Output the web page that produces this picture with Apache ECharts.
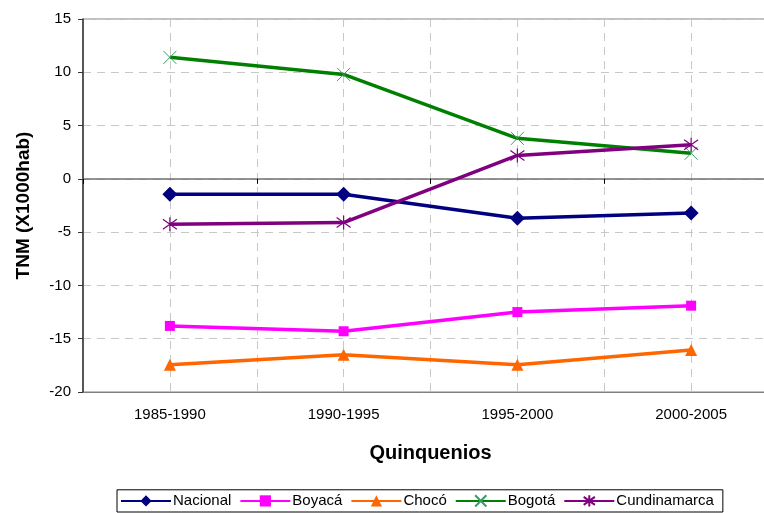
<!DOCTYPE html>
<html>
<head>
<meta charset="utf-8">
<script src="https://cdn.jsdelivr.net/npm/echarts@6/dist/echarts.min.js"></script>
<style>
  html, body { margin: 0; padding: 0; background: #fff; }
  #chart { width: 764px; height: 513px; }
</style>
</head>
<body>
<div id="chart"></div>
<script>
// quinquenios y tasas (TNM x1000hab)
const periods = ['1985-1990', '1990-1995', '1995-2000', '2000-2005'];
const nacional = [-1.45, -1.45, -3.7, -3.2];
const boyaca = [-13.8, -14.3, -12.5, -11.9];
const choco = [-17.45, -16.5, -17.45, -16.05];
const bogota = [11.4, 9.8, 3.8, 2.4];
const cundinamarca = [-4.25, -4.1, 2.2, 3.2];

const FONT = '"Liberation Sans", Arial, sans-serif';
const crossPath = 'path://M0 0L10 10M10 0L0 10';
const starPath = 'path://M0 0L10 10M10 0L0 10M5 -2L5 12';

const chart = echarts.init(document.getElementById('chart'));

function lineSeries(name, data, color, symbol, size, extra) {
  return Object.assign({
    name: name,
    type: 'line',
    xAxisIndex: 0,
    data: data,
    symbol: symbol,
    symbolSize: size,
    lineStyle: { color: color, width: 3.5 },
    itemStyle: { color: color },
    z: 3
  }, extra || {});
}

chart.setOption({
  animation: false,
  textStyle: { fontFamily: FONT },
  grid: {
    left: 83, top: 19, width: 695, bottom: 121,
    outerBoundsMode: 'none',
    containLabel: false,
    show: true, borderColor: '#808080', borderWidth: 1
  },
  legend: {
    bottom: 1,
    left: 117,
    itemWidth: 50,
    itemHeight: 14,
    itemGap: 8,
    padding: [3, 9, 3, 3],
    borderColor: '#000',
    borderWidth: 1,
    borderRadius: 0,
    textStyle: { fontSize: 15, color: '#000', fontFamily: FONT, padding: [0, 0, 0, -3] }
  },
  xAxis: [
    {
      type: 'category',
      data: periods,
      position: 'bottom',
      name: 'Quinquenios',
      nameLocation: 'middle',
      nameGap: 51,
      nameTextStyle: { fontSize: 20, fontWeight: 'bold', color: '#000' },
      axisLine: { onZero: false, lineStyle: { color: '#808080', width: 1 } },
      axisTick: { show: false },
      axisLabel: { fontSize: 15, color: '#000', margin: 15 },
      splitLine: { show: false }
    },
    {
      type: 'value',
      min: 0, max: 4, interval: 1,
      position: 'top',
      axisLine: { show: true, onZero: true, lineStyle: { color: '#707070', width: 1.5 } },
      axisTick: { show: true, inside: true, length: 5, lineStyle: { color: '#000' } },
      axisLabel: { show: false },
      splitLine: { show: true, lineStyle: { color: '#c8c8c8', type: [8, 6], width: 1 } },
      minorTick: { show: false, splitNumber: 2 },
      minorSplitLine: { show: true, lineStyle: { color: '#c8c8c8', type: [8, 6], width: 1 } }
    }
  ],
  yAxis: {
    type: 'value',
    min: -20, max: 15, interval: 5,
    name: 'TNM (X1000hab)',
    nameLocation: 'middle',
    nameGap: 50,
    nameTextStyle: { fontSize: 19, fontWeight: 'bold', color: '#000' },
    axisLine: { show: true, lineStyle: { color: '#333', width: 1.5 } },
    axisTick: { show: true, length: 5, lineStyle: { color: '#333' } },
    axisLabel: { fontSize: 15, color: '#000', margin: 12 },
    splitLine: { show: true, lineStyle: { color: '#c8c8c8', type: [8, 6], width: 1 } }
  },
  series: [
    lineSeries('Nacional', nacional, '#000080', 'diamond', 15),
    lineSeries('Boyacá', boyaca, '#ff00ff', 'rect', 10),
    lineSeries('Chocó', choco, '#ff6600', 'triangle', 12),
    lineSeries('Bogotá', bogota, '#008000', crossPath, 13, {
      itemStyle: { color: 'none', borderColor: '#3a9a6a', borderWidth: 1 }
    }),
    lineSeries('Cundinamarca', cundinamarca, '#800080', starPath, 14, {
      itemStyle: { color: 'none', borderColor: '#800080', borderWidth: 1.2 }
    })
  ]
});
</script>
</body>
</html>
